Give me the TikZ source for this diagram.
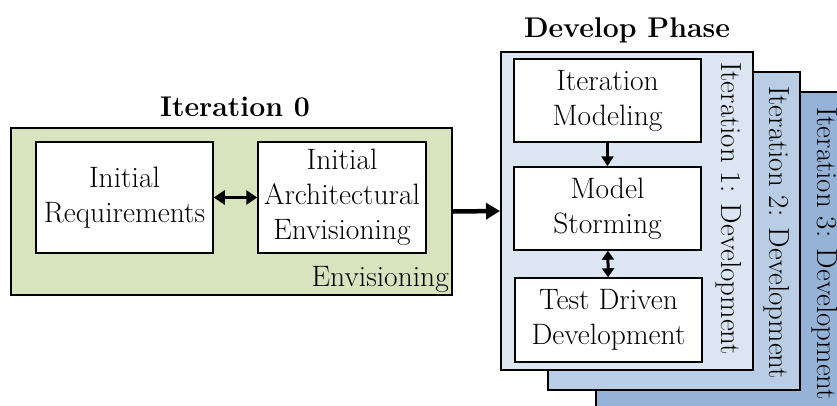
\documentclass[tikz,border=0pt]{standalone}
\usetikzlibrary{arrows.meta}
\definecolor{envgreen}{HTML}{D7E4BD}
\definecolor{blueA}{HTML}{DCE6F2}
\definecolor{blueB}{HTML}{B9CDE5}
\definecolor{blueC}{HTML}{95B3D7}
\tikzset{
  txt/.style={font=\fontsize{29.5}{35}\selectfont},
  ttl/.style={font=\fontsize{28.5}{36}\selectfont\bfseries, inner sep=0pt},
  phase/.style={draw=black, line width=2pt, inner sep=0pt},
  inbox/.style={draw=black, line width=1.5pt, fill=white, inner sep=0pt, txt, align=center},
  vlab/.style={font=\fontsize{29}{35}\selectfont, rotate=-90, anchor=west, inner sep=0pt},
  dbl/.style={line width=3.5pt, {Triangle[length=11pt,width=14pt]}-{Triangle[length=11pt,width=14pt]}},
}
\begin{document}
\begin{tikzpicture}[x=1pt,y=-1pt]
\useasboundingbox (0,0) rectangle (837,405);
% Iteration 0
\node[phase, fill=envgreen, minimum width=441pt, minimum height=167pt] (iter0) at (231.5,211.5) {};
\node[ttl, anchor=base] (t0) at (235,116) {Iteration 0};
\node[inbox, minimum width=177pt, minimum height=111pt] (ir) at (124.5,197.5) {Initial\\Requirements};
\node[inbox, minimum width=168pt, minimum height=111pt] (iae) at (342,197.5) {Initial\\Architectural\\Envisioning};
\node[txt, anchor=base east, inner sep=0pt] (env) at (449,286) {Envisioning};
\draw[dbl] (ir) -- (iae);
% Develop phase
\clip (0,0) rectangle (837,405);
\node[phase, fill=blueC, minimum width=252pt, minimum height=318pt] (d3) at (722,251) {};
\node[phase, fill=blueB, minimum width=252pt, minimum height=318pt] (d2) at (674,230.5) {};
\node[phase, fill=blueA, minimum width=252pt, minimum height=318pt] (d1) at (627,211) {};
\node[ttl, anchor=base] (tdev) at (627,37) {Develop Phase};
\node[inbox, minimum width=187pt, minimum height=83pt] (im) at (607.5,100.5) {Iteration\\Modeling};
\node[inbox, minimum width=187pt, minimum height=83pt] (ms) at (607.5,208.5) {Model\\Storming};
\node[inbox, minimum width=187pt, minimum height=84pt] (tdd) at (608.5,320) {Test Driven\\Development};
\draw[line width=3pt, -{Triangle[length=10pt,width=12pt]}] (im) -- (ms);
\draw[line width=3pt, {Triangle[length=9pt,width=12pt]}-{Triangle[length=9pt,width=12pt]}] (ms) -- (tdd);
\node[vlab] (l1) at (729,62) {Iteration 1: Development};
\node[vlab] (l2) at (777,86) {Iteration 2: Development};
\node[vlab] (l3) at (825,107) {Iteration 3: Development};
\draw[line width=4.5pt, -{Triangle[length=14pt,width=16pt]}] (iter0.east) -- (d1.west);
\end{tikzpicture}
\end{document}
